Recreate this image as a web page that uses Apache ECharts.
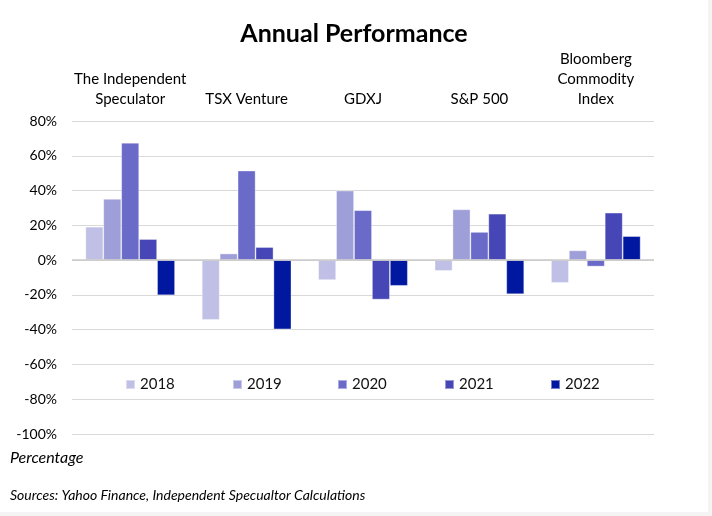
<!DOCTYPE html>
<html>
<head>
<meta charset="utf-8">
<script src="https://cdn.jsdelivr.net/npm/echarts@6/dist/echarts.min.js"></script>
<style>
  html, body { margin: 0; padding: 0; background: #f4f4f4; }
  #chart { width: 708px; height: 512px; background: #ffffff; }
</style>
</head>
<body>
<div id="chart"></div>
<script>
const categories = ['The Independent\nSpeculator', 'TSX Venture', 'GDXJ', 'S&P 500', 'Bloomberg\nCommodity\nIndex'];
const years = ['2018', '2019', '2020', '2021', '2022'];
const v2018 = [19.2, -34.4, -11.5, -6.2, -13.1];
const v2019 = [35.2, 3.8, 40.0, 29.2, 5.6];
const v2020 = [67.5, 51.5, 28.7, 16.2, -3.7];
const v2021 = [12.1, 7.5, -22.7, 26.7, 27.3];
const v2022 = [-20.2, -39.8, -14.8, -19.6, 13.8];
const yTicks = { min: -100, max: 80, interval: 20 };

const values = [v2018, v2019, v2020, v2021, v2022];
const colors = ['#c0c0e6', '#9e9ed8', '#6a6ac8', '#4646b6', '#0018a0'];
const FONT = 'Lato, "Open Sans", sans-serif';

const chart = echarts.init(document.getElementById('chart'));

const series = years.map((y, i) => {
  const s = {
    name: y,
    type: 'bar',
    data: values[i],
    barGap: '0%',
    barCategoryGap: '23%',
    itemStyle: { color: colors[i], borderColor: 'rgba(255,255,255,0.45)', borderWidth: 0.8 }
  };
  if (i === 0) {
    s.markLine = {
      silent: true,
      symbol: 'none',
      label: { show: false },
      lineStyle: { color: '#c8c8c8', width: 1.5, type: 'solid' },
      data: [{ yAxis: 0 }]
    };
  }
  return s;
});

const legendLefts = [120, 227, 332, 439, 545];
const legends = years.map((y, i) => ({
  data: [y],
  left: legendLefts[i],
  top: 372,
  itemWidth: 9,
  itemHeight: 9,
  icon: 'rect',
  itemGap: 4,
  textStyle: { fontFamily: FONT, fontSize: 15, color: '#111' }
}));

chart.setOption({
  animation: false,
  title: {
    text: 'Annual Performance',
    left: 'center',
    top: 16,
    textStyle: { fontFamily: FONT, fontSize: 25, fontWeight: 'bold', color: '#000' }
  },
  legend: legends,
  grid: { left: 72, right: 54, top: 121, bottom: 78 },
  xAxis: {
    type: 'category',
    position: 'top',
    data: categories,
    axisLine: { show: false },
    axisTick: { show: false },
    axisLabel: {
      interval: 0,
      margin: 12,
      fontFamily: FONT,
      fontSize: 15,
      color: '#000',
      lineHeight: 20
    }
  },
  yAxis: {
    type: 'value',
    min: yTicks.min,
    max: yTicks.max,
    interval: yTicks.interval,
    axisLine: { show: false },
    axisTick: { show: false },
    splitLine: { lineStyle: { color: '#d9d9d9', width: 1 } },
    axisLabel: {
      formatter: '{value}%',
      margin: 15,
      fontFamily: FONT,
      fontSize: 14,
      color: '#000'
    }
  },
  graphic: [
    { type: 'text', left: 10, top: 450, style: { text: 'Percentage', font: 'italic 16px ' + FONT, fill: '#000' } },
    { type: 'text', left: 10, top: 488, style: { text: 'Sources: Yahoo Finance, Independent Specualtor Calculations', font: 'italic 14px ' + FONT, fill: '#000' } }
  ],
  series: series
});
</script>
</body>
</html>
